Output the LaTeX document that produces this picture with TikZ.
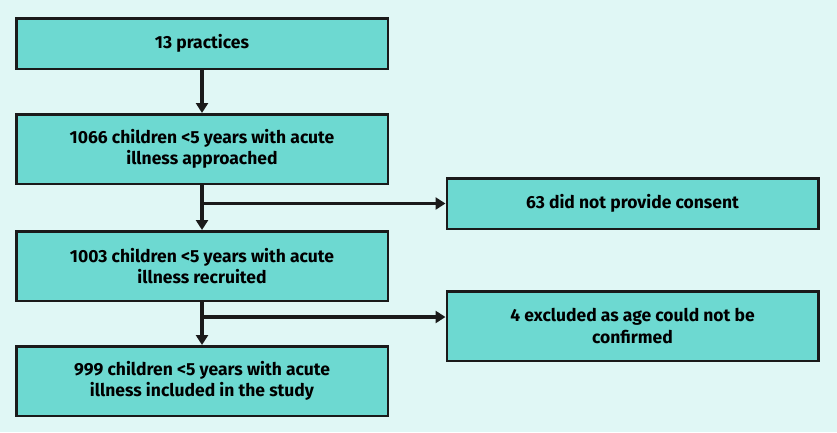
\documentclass[tikz,border=0pt]{standalone}
\usepackage{fontspec}
\setmainfont{Fira Sans}
\usetikzlibrary{%
  arrows.meta
}
\definecolor{bgcyan}{HTML}{E0F7F5}
\definecolor{boxteal}{HTML}{6DD9D1}
\definecolor{edgedark}{HTML}{1A1A1A}
\tikzset{
  flowbox/.style={draw=edgedark,fill=boxteal,line width=2.5pt,minimum width=371.5pt,
    align=center,font=\bfseries\fontsize{17.5}{21.5}\selectfont,inner sep=0pt},
  flowarrow/.style={draw=edgedark,line width=3.2pt,-{Triangle[length=10pt,width=12pt]}},
}

\begin{document}
\begin{tikzpicture}[x=1pt,y=-1pt]
%%%background
\fill[bgcyan] (0,0) rectangle (837,432);
\useasboundingbox (0,0) rectangle (837,432);
%%%main column
\node[flowbox,minimum height=50.5pt] (practices) at (202,43.5) {13 practices};
\node[flowbox,minimum height=69.5pt] (approached) at (202,149) {1066 children <5 years with acute\\illness approached};
\node[flowbox,minimum height=69.5pt] (recruited) at (202,266) {1003 children <5 years with acute\\illness recruited};
\node[flowbox,minimum height=69.5pt] (included) at (202,381) {999 children <5 years with acute\\illness included in the study};
%%%exclusions
\node[flowbox,minimum height=50.5pt] (noconsent) at (632.5,203.5) {63 did not provide consent};
\node[flowbox,minimum height=69.5pt] (noage) at (632.5,326) {4 excluded as age could not be\\confirmed};
\coordinate (splitA) at (approached.south |- noconsent.west);
\coordinate (splitB) at (202,317);
%%%arrows down
\draw[flowarrow] (practices) -- (approached);
\draw[flowarrow] (approached) -- (recruited);
\draw[flowarrow] (recruited) -- (included);
%%%arrows right
\draw[flowarrow] (splitA) -- (noconsent.west);
\draw[flowarrow] (splitB) -- (splitB -| noage.west);
\end{tikzpicture}
\end{document}
